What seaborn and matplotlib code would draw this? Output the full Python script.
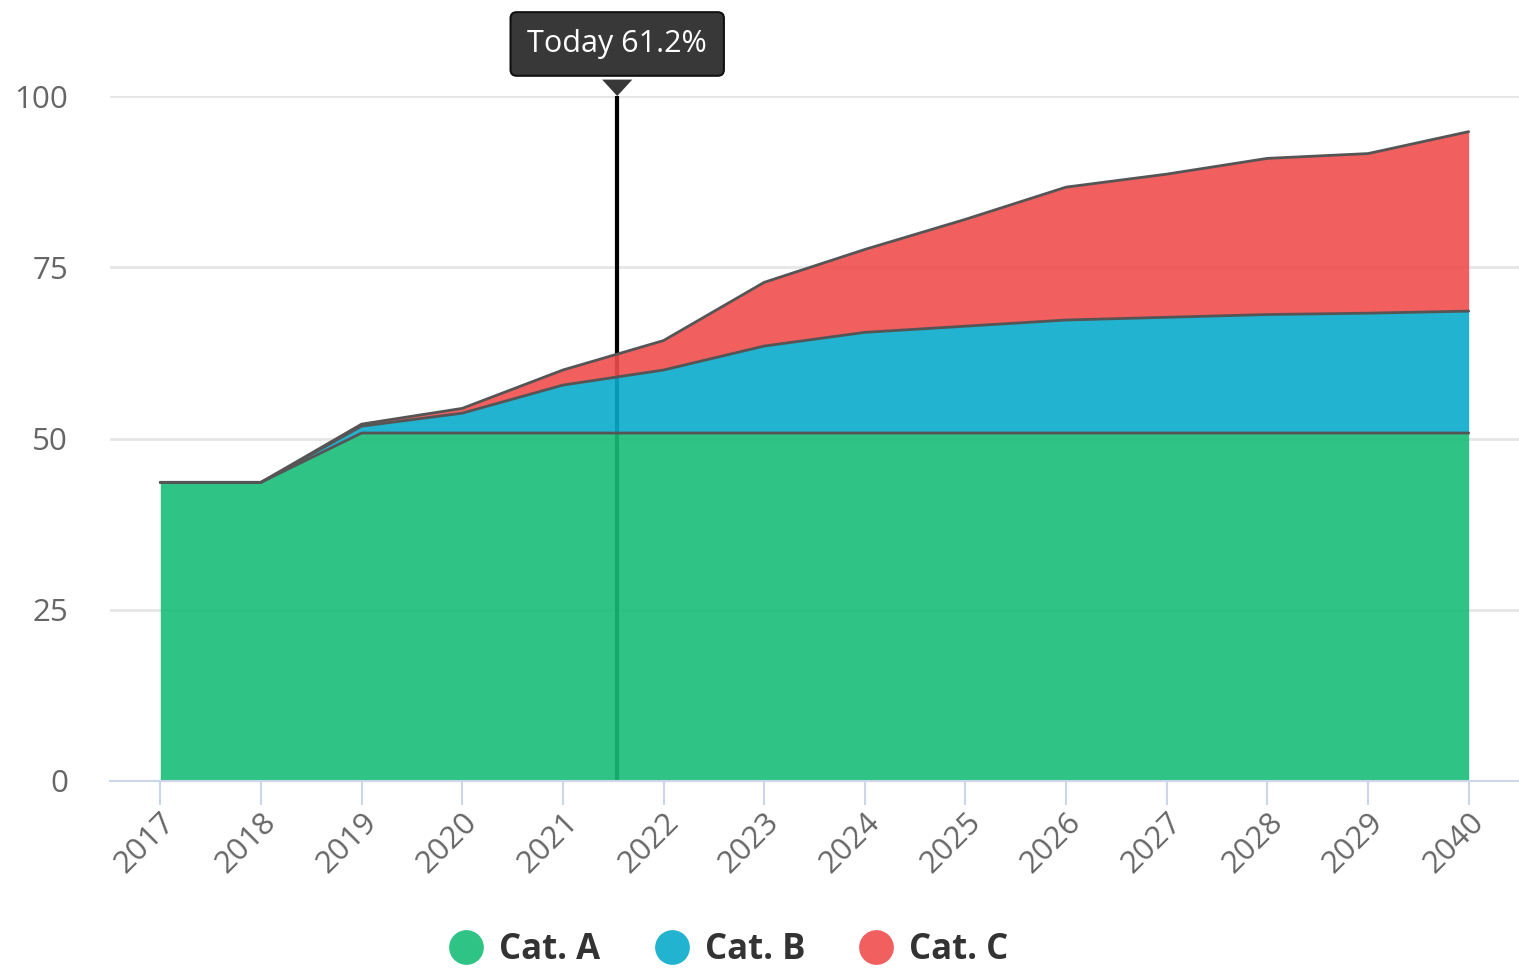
import pandas as pd
import numpy as np
import matplotlib
matplotlib.use('Agg')
import matplotlib.pyplot as plt
from matplotlib.lines import Line2D
from matplotlib.patches import Polygon
import seaborn as sns

# Data
years = ['2017', '2018', '2019', '2020', '2021', '2022', '2023',
         '2024', '2025', '2026', '2027', '2028', '2029', '2040']
cat_a = [43.6, 43.6, 50.8, 50.8, 50.8, 50.8, 50.8,
         50.8, 50.8, 50.8, 50.8, 50.8, 50.8, 50.8]
cat_b = [0.0, 0.0, 1.0, 2.9, 7.0, 9.2, 12.7,
         14.7, 15.6, 16.5, 16.9, 17.3, 17.5, 17.8]
cat_c = [0.0, 0.0, 0.3, 0.7, 2.2, 4.3, 9.3,
         12.1, 15.6, 19.4, 20.9, 22.8, 23.3, 26.2]
series_names = ['Cat. A', 'Cat. B', 'Cat. C']
today_pos = 4.54          # between 2021 and 2022
today_label = 'Today 61.2%'
y_ticks = [0, 25, 50, 75, 100]

colors = ['#18bd79', '#09abcb', '#f04d4d']
legend_colors = ['#2fc486', '#22b3d0', '#f25f5f']

sns.set_theme(style='white')
plt.rcParams['font.family'] = ['Open Sans', 'DejaVu Sans']

df = pd.DataFrame({'year': years, 'Cat. A': cat_a, 'Cat. B': cat_b, 'Cat. C': cat_c})
df['x'] = np.arange(len(df))
tops = df[series_names].cumsum(axis=1)

fig = plt.figure(figsize=(15.19, 9.76), dpi=100)
ax = fig.add_axes([0.0724, 0.1998, 0.9276, 0.7018])

# grid
for t in y_ticks[1:]:
    ax.axhline(t, color='#e6e6e6', lw=2, zorder=0)

# today marker line (behind the areas)
ax.axvline(today_pos, color='black', lw=3, zorder=1)

lower = np.zeros(len(df))
for name, col in zip(series_names, colors):
    upper = tops[name].values
    ax.fill_between(df['x'], lower, upper, color=col, alpha=0.9, lw=0, zorder=2)
    lower = upper

for name in series_names:
    sns.lineplot(x=df['x'], y=tops[name], ax=ax, color='#555555', lw=2, zorder=3)

ax.set_xlim(-0.5, len(df) - 0.5)
ax.set_ylim(0, 100)
ax.set_xlabel('')
ax.set_ylabel('')
ax.set_yticks(y_ticks)
ax.set_yticklabels([str(t) for t in y_ticks])
ax.set_xticks(df['x'])
ax.set_xticklabels(years, rotation=45, ha='right', rotation_mode='anchor')
ax.tick_params(axis='y', length=0, pad=30, labelsize=22.5, labelcolor='#666666')
ax.tick_params(axis='x', length=17, width=1.5, color='#ccd6eb', pad=2,
               labelsize=22.5, labelcolor='#666666', bottom=True)
for side in ['top', 'right', 'left']:
    ax.spines[side].set_visible(False)
ax.spines['bottom'].set_color('#ccd6eb')
ax.spines['bottom'].set_linewidth(1.5)

# tooltip
ax.text(today_pos, 107.6, today_label, ha='center', va='center', fontsize=22,
        color='white', zorder=6, clip_on=False,
        bbox=dict(boxstyle='round,pad=0.55,rounding_size=0.2', fc='#383838',
                  ec='#111111', lw=1.5))
tri = Polygon([[today_pos - 0.15, 102.4], [today_pos + 0.15, 102.4], [today_pos, 100.0]],
              closed=True, fc='#383838', ec='none', zorder=7, clip_on=False)
ax.add_patch(tri)

# legend
handles = [Line2D([0], [0], marker='o', ls='', markersize=24, markerfacecolor=c,
                  markeredgecolor=c) for c in legend_colors]
leg = fig.legend(handles, series_names, loc='lower center', bbox_to_anchor=(0.474, -0.024),
                 ncol=3, frameon=False, handletextpad=-0.05, columnspacing=1.05,
                 prop={'size': 25, 'weight': 'bold'})
for t in leg.get_texts():
    t.set_color('#333333')

fig.savefig('out.png', dpi=100)
